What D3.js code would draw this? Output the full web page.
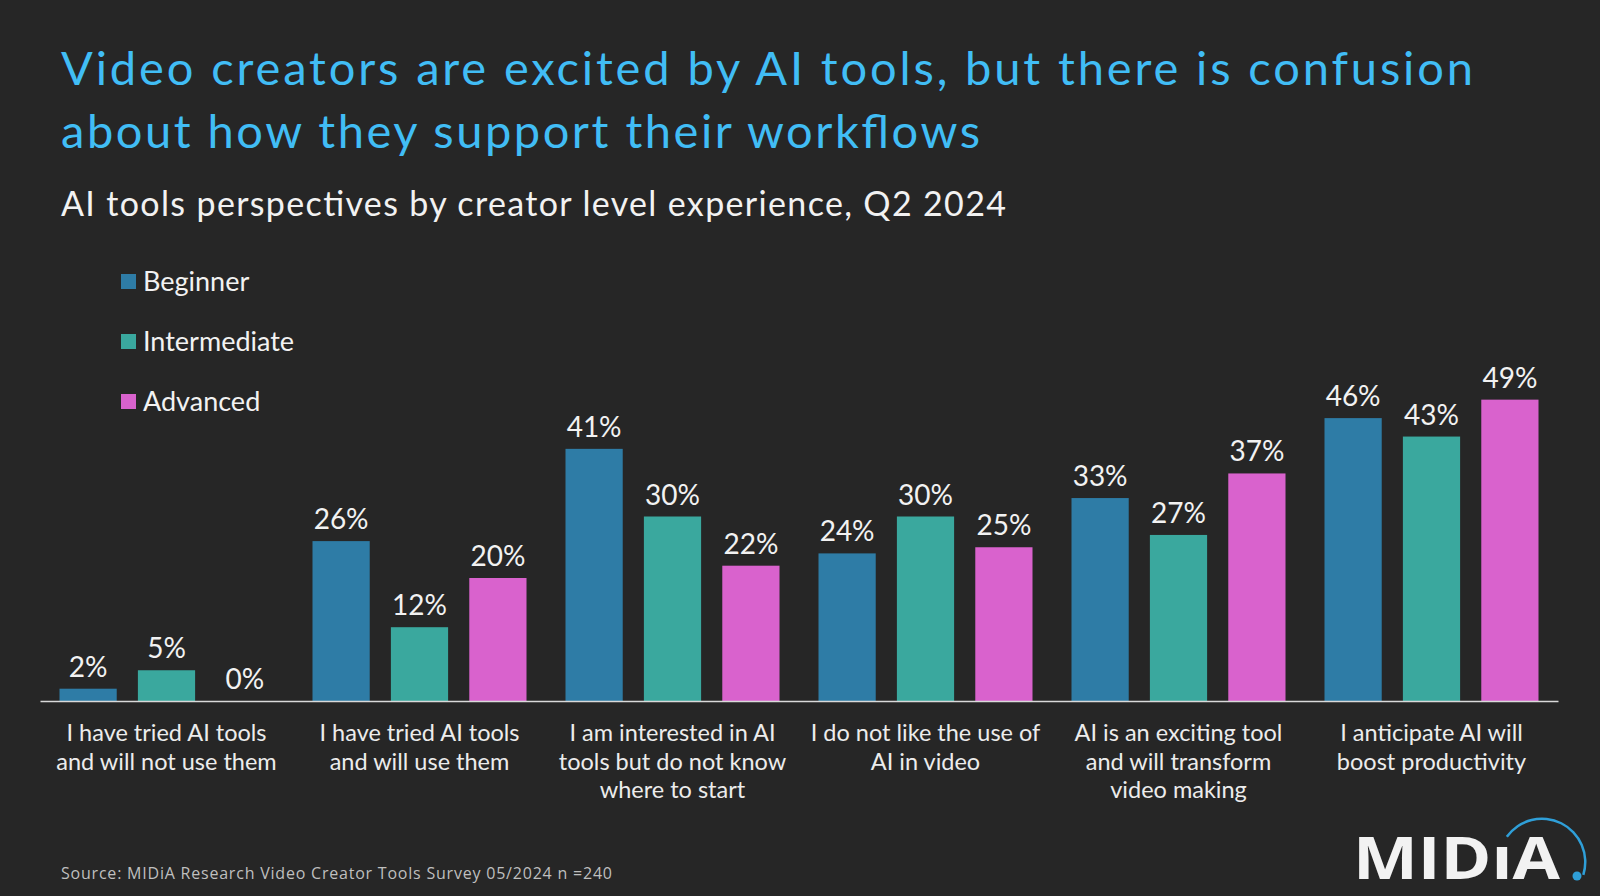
<!DOCTYPE html>
<html><head><meta charset="utf-8">
<script src="https://cdn.jsdelivr.net/npm/d3@7"></script>
<style>
html,body{margin:0;padding:0;background:#262626;}
svg{display:block;}
</style></head>
<body>
<svg id="chart" width="1600" height="896"></svg>
<script>
const categories = [
  "I have tried AI tools\nand will not use them",
  "I have tried AI tools\nand will use them",
  "I am interested in AI\ntools but do not know\nwhere to start",
  "I do not like the use of\nAI in video",
  "AI is an exciting tool\nand will transform\nvideo making",
  "I anticipate AI will\nboost productivity"
];
const seriesNames = ["Beginner", "Intermediate", "Advanced"];
const beginner = [2, 26, 41, 24, 33, 46];
const intermediate = [5, 12, 30, 30, 27, 43];
const advanced = [0, 20, 22, 25, 37, 49];
const seriesColors = ["#2e7ca6", "#3aa89e", "#d962cd"];
const title = ["Video creators are excited by AI tools, but there is confusion", "about how they support their workflows"];
const subtitle = "AI tools perspectives by creator level experience, Q2 2024";
const source = "Source: MIDiA Research Video Creator Tools Survey 05/2024 n =240";

const series = [beginner, intermediate, advanced];
const svg = d3.select("#chart");
const font = "Lato, 'Open Sans', sans-serif";

svg.append("rect").attr("width", 1600).attr("height", 896).attr("fill", "#262626");

// Title
svg.selectAll("text.title").data(title).join("text")
  .attr("class", "title")
  .attr("x", 61).attr("y", (d, i) => 85 + i * 63)
  .attr("font-family", font).attr("font-size", 47)
  .attr("fill", "#41bdf5")
  .attr("textLength", (d, i) => i === 0 ? 1412 : 919)
  .attr("lengthAdjust", "spacing")
  .text(d => d);

svg.append("text").attr("x", 61).attr("y", 216)
  .attr("font-family", font).attr("font-size", 34)
  .attr("fill", "#f2f2f2")
  .attr("textLength", 945).attr("lengthAdjust", "spacing")
  .text(subtitle);

// Scales
const innerW = 214;
const x0 = d3.scaleBand().domain(categories).range([40, 1558]).padding(0);
const x1 = d3.scaleBand().domain(seriesNames).range([0, innerW]).paddingInner(0.27).paddingOuter(0);
const groupOffset = (x0.bandwidth() - innerW) / 2;
const y = d3.scaleLinear().domain([0, 100]).range([701, 701 - 615]);

// Bars
const groups = svg.selectAll("g.grp").data(categories).join("g")
  .attr("class", "grp")
  .attr("transform", d => `translate(${x0(d) + groupOffset},0)`);

groups.each(function(cat, ci) {
  const g = d3.select(this);
  seriesNames.forEach((s, si) => {
    const v = series[si][ci];
    g.append("rect")
      .attr("x", x1(s)).attr("width", x1.bandwidth())
      .attr("y", y(v)).attr("height", y(0) - y(v))
      .attr("fill", seriesColors[si]);
    g.append("text")
      .attr("x", x1(s) + x1.bandwidth() / 2)
      .attr("y", y(v) - 12)
      .attr("text-anchor", "middle")
      .attr("font-family", font).attr("font-size", 28)
      .attr("fill", "#f2f2f2")
      .text(v + "%");
  });
});

// Axis baseline
const xAxis = d3.axisBottom(x0).tickSize(0).tickFormat("");
const ax = svg.append("g").attr("transform", `translate(0,${y(0)})`).call(xAxis);
ax.select(".domain").attr("stroke", "#d9d9d9").attr("stroke-width", 1.5);

// Category labels
svg.selectAll("text.cat").data(categories).join("text")
  .attr("class", "cat")
  .attr("text-anchor", "middle")
  .attr("font-family", font).attr("font-size", 23.5)
  .attr("fill", "#ececec")
  .each(function(d) {
    const t = d3.select(this);
    d.split("\n").forEach((line, i) => {
      t.append("tspan").attr("x", x0(d) + x0.bandwidth() / 2)
        .attr("y", 741 + i * 28.6).text(line);
    });
  });

// Legend
const legend = svg.selectAll("g.leg").data(seriesNames).join("g")
  .attr("class", "leg")
  .attr("transform", (d, i) => `translate(121,${282 + i * 60})`);
legend.append("rect").attr("x", 0).attr("y", -8).attr("width", 15).attr("height", 15)
  .attr("fill", (d, i) => seriesColors[i]);
legend.append("text").attr("x", 22).attr("y", 9)
  .attr("font-family", font).attr("font-size", 27)
  .attr("fill", "#f2f2f2").text(d => d);

// Source
svg.append("text").attr("x", 61).attr("y", 879)
  .attr("font-family", "'Open Sans', sans-serif").attr("font-size", 16)
  .attr("fill", "#bfbfbf")
  .attr("textLength", 551).attr("lengthAdjust", "spacing")
  .text(source);

// Logo
svg.append("text").attr("x", 1353).attr("y", 879)
  .attr("font-family", "'Open Sans', sans-serif").attr("font-weight", 700)
  .attr("font-size", 59).attr("fill", "#f2f2f2")
  .attr("textLength", 207).attr("lengthAdjust", "spacingAndGlyphs")
  .text("MIDıA");
const arc = d3.arc().innerRadius(42).outerRadius(44.5)
  .startAngle(-0.95).endAngle(Math.PI / 2 + 0.3);
svg.append("path").attr("transform", "translate(1542,862)").attr("d", arc()).attr("fill", "#2f9fd8");
svg.append("circle").attr("cx", 1577).attr("cy", 876).attr("r", 4.5).attr("fill", "#2f9fd8");
</script>
</body></html>
